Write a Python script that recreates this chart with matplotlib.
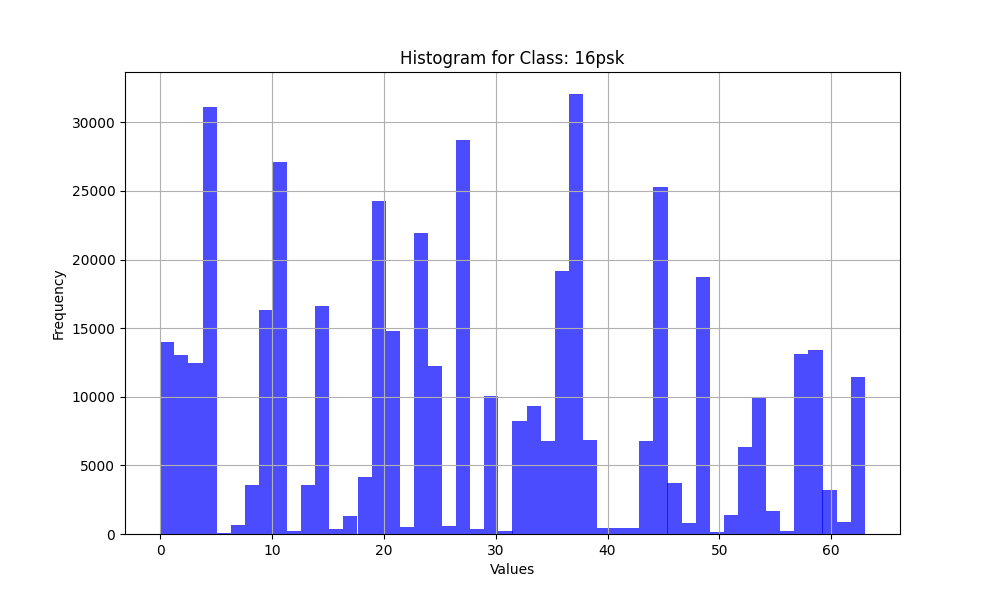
import numpy as np
import matplotlib
matplotlib.use("Agg")
import matplotlib.pyplot as plt

# Histogram range and bin count
data_min = 0
data_max = 63
n_bins = 50

# Bin counts (50 bins from 0 to 63)
counts = [
    13970, 13040, 12460, 31120, 70, 660, 3570, 16320, 27110, 220,
    3570, 16610, 360, 1310, 4150, 24270, 14790, 510, 21930, 12240,
    580, 28710, 360, 10060, 220, 8230, 9330, 6780, 19170, 32060,
    6850, 440, 440, 440, 6780, 25290, 3720, 800, 18730, 150,
    1390, 6340, 9910, 1680, 220, 13120, 13410, 3210, 870, 11440,
]

edges = np.linspace(data_min, data_max, n_bins + 1)
centers = (edges[:-1] + edges[1:]) / 2

fig, ax = plt.subplots(figsize=(10, 6), dpi=100)
ax.hist(centers, bins=edges, weights=counts, color="blue", alpha=0.7)
ax.set_title("Histogram for Class: 16psk")
ax.set_xlabel("Values")
ax.set_ylabel("Frequency")
ax.grid(True)
fig.savefig("out.png")
